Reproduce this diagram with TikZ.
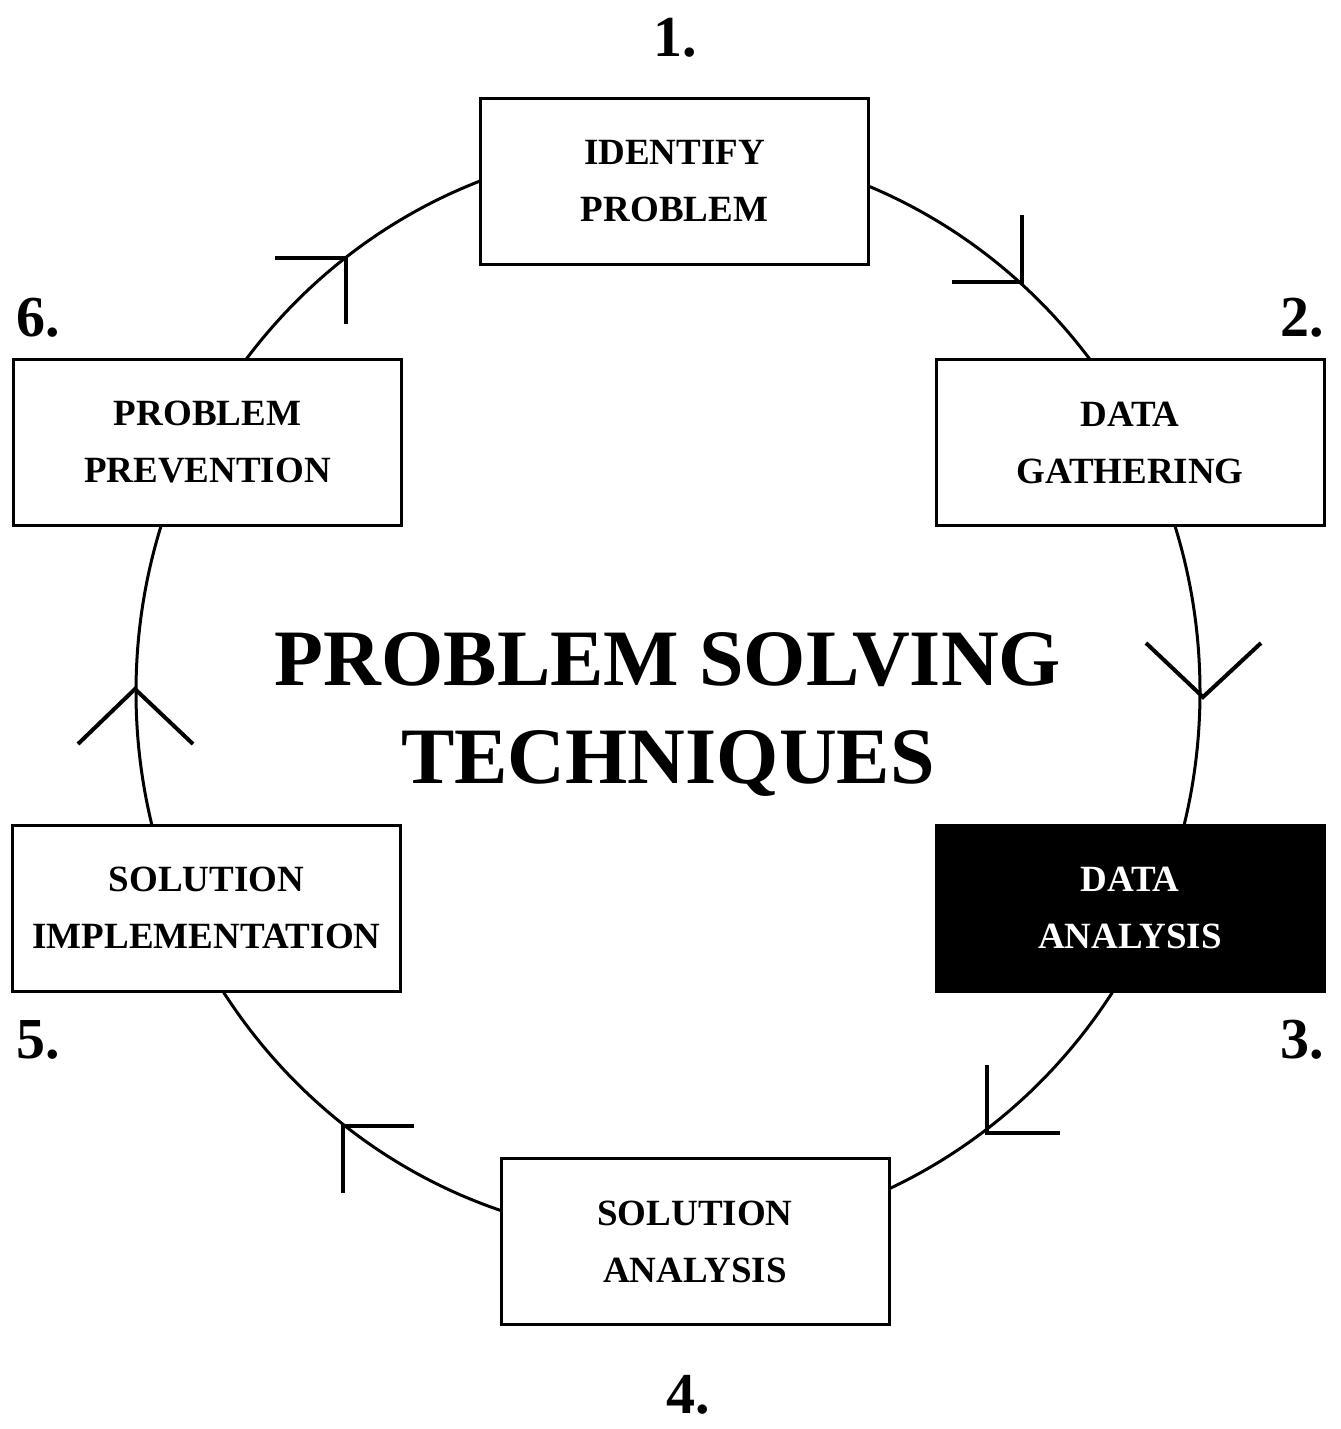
\documentclass[tikz,border=0pt]{standalone}
\usepackage{fontspec}
\setmainfont{Liberation Serif}

\tikzset{every picture/.style={line width=2.25pt}}
\tikzset{
  stage/.style={draw, fill=white, minimum width=291pt, minimum height=124.5pt,
    inner sep=0pt, align=center, font=\bfseries\fontsize{27.75}{42.75}\selectfont},
  stagenum/.style={inner sep=0pt, font=\bfseries\fontsize{43.5}{50}\selectfont},
  headline/.style={inner sep=0pt, anchor=base, font=\bfseries\fontsize{60}{72}\selectfont},
  turn/.style={line width=3pt},
}

\begin{document}
\begin{tikzpicture}[x=0.75pt,y=0.75pt,yscale=-1,xscale=1]
        \useasboundingbox (0,0) rectangle (1341,1429);

        %Shape: Ellipse
        \draw   (668,692) ellipse (532 and 546) ;

        %Turn marks on the ring
        \draw[turn]   (952,282) -- (1022,282) -- (1022,215) ;
        \draw[turn]   (1146,643) -- (1203,697) -- (1261,643) ;
        \draw[turn]   (987,1065) -- (987,1133) -- (1060,1133) ;
        \draw[turn]   (343,1193) -- (343,1126) -- (414,1126) ;
        \draw[turn]   (78,744) -- (135,689) -- (193,744) ;
        \draw[turn]   (275,258) -- (346,258) -- (346,324) ;

        %Stages
        \node[stage] (identify) at (674.5,181.5) {IDENTIFY\\PROBLEM};
        \node[stage] (gathering) at (1130,442.5) {DATA\\GATHERING};
        \node[stage, fill=black, text=white] (analysis) at (1130,908) {DATA\\ANALYSIS};
        \node[stage] (solution) at (695,1241.5) {SOLUTION\\ANALYSIS};
        \node[stage] (implement) at (206.5,908) {SOLUTION\\IMPLEMENTATION};
        \node[stage] (prevent) at (207.5,442) {PROBLEM\\PREVENTION};

        %Step numbers
        \node[stagenum] (n1) at (675,38) {1.};
        \node[stagenum] (n2) at (1302,318) {2.};
        \node[stagenum] (n3) at (1302,1040) {3.};
        \node[stagenum] (n4) at (688,1395) {4.};
        \node[stagenum] (n5) at (38,1040) {5.};
        \node[stagenum] (n6) at (38,318) {6.};

        %Title
        \node[headline] (title) at (668,685) {PROBLEM SOLVING};
        \node[headline] (subtitle) at (668,783) {TECHNIQUES};

\end{tikzpicture}
\end{document}
